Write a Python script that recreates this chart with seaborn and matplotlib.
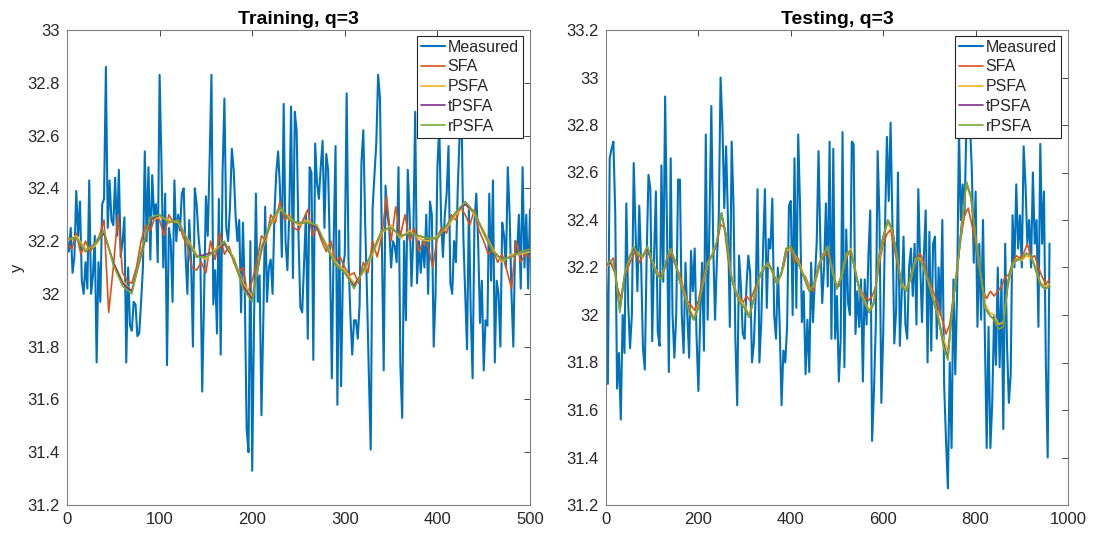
import numpy as np
import pandas as pd
import matplotlib
matplotlib.use("Agg")
import matplotlib.pyplot as plt
from matplotlib.ticker import FormatStrFormatter
import seaborn as sns

sns.set_style("white")
plt.rcParams['font.family'] = ['Liberation Sans', 'DejaVu Sans']

# ---------------- data ----------------
series_names = ["Measured", "SFA", "PSFA", "tPSFA", "rPSFA"]
series_colors = ["#0072BD", "#D95319", "#EDB120", "#7E2F8E", "#77AC30"]

# Training (sample spacing per series)
train_measured_step = 2
train_measured = [
    32.20, 32.16, 32.25, 32.08, 32.14, 32.39, 32.22, 32.35, 32.05, 32.00,
    32.12, 32.02, 32.43, 32.00, 32.07, 32.22, 31.74, 32.12, 31.97, 32.34,
    32.36, 32.86, 32.25, 32.43, 32.28, 32.26, 32.44, 32.22, 32.47, 32.14,
    32.20, 32.29, 31.74, 32.10, 31.88, 31.86, 31.97, 31.96, 31.84, 31.85,
    31.97, 32.10, 32.54, 32.20, 32.48, 32.13, 32.45, 32.30, 32.34, 32.12,
    32.83, 32.50, 32.10, 32.38, 31.73, 32.25,
    32.20, 31.97, 32.43, 32.20, 32.30, 32.24, 32.38, 32.40, 32.15, 32.00,
    32.28, 32.12, 31.80, 32.40, 32.34, 32.22, 32.14, 31.63, 31.98, 32.37,
    32.22, 32.50, 32.83, 31.96, 32.09, 31.85, 32.36, 31.77, 32.46, 32.74,
    32.25, 32.20, 32.33, 32.55, 32.47, 32.30, 32.20, 32.28, 31.93, 32.27,
    32.00, 31.49, 31.40, 32.20, 31.33, 31.90, 32.38, 31.97, 32.07, 31.54,
    31.90, 32.33, 31.97, 32.10, 32.13, 32.00, 32.30, 32.46,
    32.54, 32.40, 32.14, 32.72, 32.20, 32.09, 32.30, 32.71, 32.06, 32.69,
    32.62, 32.22, 31.95, 31.93, 32.12, 32.30, 31.83, 32.48, 32.46, 31.75,
    32.57, 32.42, 32.36, 32.48, 32.58, 32.25, 32.53, 32.47, 32.14, 31.68,
    32.20, 32.56, 31.58, 32.24, 31.65, 32.10, 32.15, 32.76, 32.13, 31.92,
    31.77, 31.90, 31.90, 31.83, 31.96, 32.50, 32.62, 32.27, 32.00, 31.69,
    31.41, 32.32, 32.45, 32.57, 32.83, 32.74, 32.20, 31.71, 32.41, 32.30,
    32.25, 32.10, 32.20,
    32.18, 32.12, 32.48, 31.73, 31.53, 32.20, 31.90, 32.47, 32.30, 32.03,
    32.22, 32.69, 32.04, 32.20, 32.08, 32.20, 32.10, 32.30, 32.00, 32.35,
    32.30, 31.80, 32.00, 32.48, 32.64, 32.28, 32.14, 32.30, 32.38, 32.56,
    32.04, 32.00, 32.20, 32.12, 32.40, 32.60, 32.70, 32.22, 32.00, 31.79,
    32.33, 31.93, 31.68, 32.27, 32.38, 32.20, 31.89, 32.05, 31.71, 31.90,
    31.88, 32.38, 32.05, 32.43, 31.74, 32.05, 32.00, 31.80, 32.27, 32.22,
    32.10, 32.48, 32.30, 32.00, 31.80, 32.20, 32.15, 32.30, 32.02, 32.48,
    32.10, 32.30, 32.02, 32.32,
]

train_sfa_step = 5
train_sfa = [
    32.19, 32.17, 32.23, 32.15, 32.20, 32.16, 32.19, 32.22, 32.28, 31.93,
    32.10, 32.30, 32.08, 32.05, 32.04, 32.10, 32.20, 32.26, 32.24, 32.29,
    32.28, 32.22, 32.30, 32.27, 32.28, 32.22, 32.18, 32.10, 32.09, 32.12,
    32.08, 32.20, 32.13, 32.23, 32.15, 32.18, 32.12, 32.08, 32.10, 32.00,
    32.05, 32.12, 32.22, 32.20, 32.30, 32.27, 32.35, 32.28, 32.30, 32.25,
    32.24, 32.28, 32.32, 32.22, 32.25, 32.20, 32.16, 32.20, 32.12, 32.14,
    32.10, 32.07, 32.08, 32.04, 32.12, 32.08, 32.20, 32.14, 32.22, 32.37,
    32.20, 32.33, 32.22, 32.30, 32.20, 32.25, 32.16, 32.20, 32.18, 32.10,
    32.22, 32.25, 32.23, 32.30, 32.28, 32.33, 32.30, 32.26, 32.32, 32.24,
    32.20, 32.15, 32.17, 32.12, 32.15, 32.09, 32.02, 32.20, 32.12, 32.15,
    32.14,
]

train_smooth_step = 10
train_psfa = [
    32.20, 32.22, 32.17, 32.18, 32.23, 32.12, 32.05, 32.01, 32.14, 32.28,
    32.29, 32.28, 32.27, 32.21, 32.15, 32.13, 32.17, 32.19, 32.14, 32.04,
    31.99, 32.16, 32.26, 32.32, 32.29, 32.26, 32.28, 32.25, 32.19, 32.12,
    32.09, 32.04, 32.08, 32.15, 32.23, 32.26, 32.21, 32.24, 32.21, 32.20,
    32.22, 32.25, 32.30, 32.34, 32.30, 32.24, 32.17, 32.12, 32.15, 32.15,
    32.16,
]
train_tpsfa = [
    32.21, 32.21, 32.16, 32.19, 32.23, 32.12, 32.04, 32.01, 32.15, 32.28,
    32.30, 32.27, 32.28, 32.20, 32.14, 32.15, 32.16, 32.19, 32.13, 32.03,
    31.98, 32.17, 32.27, 32.33, 32.28, 32.27, 32.27, 32.25, 32.18, 32.11,
    32.08, 32.03, 32.09, 32.16, 32.24, 32.25, 32.22, 32.23, 32.22, 32.21,
    32.21, 32.26, 32.31, 32.34, 32.31, 32.23, 32.16, 32.13, 32.14, 32.16,
    32.17,
]
train_rpsfa = [
    32.21, 32.21, 32.16, 32.19, 32.24, 32.11, 32.03, 32.00, 32.16, 32.29,
    32.30, 32.27, 32.28, 32.20, 32.14, 32.14, 32.16, 32.20, 32.13, 32.02,
    31.97, 32.18, 32.27, 32.33, 32.28, 32.27, 32.27, 32.26, 32.18, 32.11,
    32.08, 32.02, 32.09, 32.16, 32.24, 32.25, 32.22, 32.23, 32.22, 32.21,
    32.21, 32.26, 32.31, 32.35, 32.31, 32.23, 32.16, 32.13, 32.14, 32.16,
    32.17,
]

# Testing
test_measured_step = 4
test_measured = [
    32.22, 31.71, 32.66, 32.70, 32.73, 32.43, 31.69, 31.84, 31.56, 32.00,
    31.84, 32.47, 32.05, 31.86, 32.00, 32.64, 32.35, 32.10, 32.46, 32.22,
    31.86, 31.77, 32.25, 32.59, 32.53, 31.89, 32.25, 32.52, 31.93, 31.87,
    32.63, 32.14, 32.92, 32.37, 31.76, 32.66, 32.00, 31.82, 32.00, 32.57,
    32.57, 32.00, 31.84, 32.22, 32.00, 31.82, 32.27, 32.10, 32.28, 31.91,
    31.68, 32.00, 32.22, 31.85, 32.76, 31.98, 32.39, 32.88, 32.30, 31.98,
    32.23, 32.40, 33.00,
    32.80, 32.45, 32.71, 32.40, 31.95, 32.73, 32.46, 31.90, 31.62, 32.25,
    32.12, 31.92, 31.90, 32.12, 32.25, 32.18, 31.80, 31.88, 32.08, 32.53,
    31.80, 31.97, 32.28, 32.53, 32.03, 32.32, 32.28, 32.49, 32.00, 31.90,
    32.20, 31.95, 31.62, 31.85, 31.80, 31.95, 32.46, 32.48, 32.00, 32.66,
    32.03, 32.76, 32.46, 31.97, 32.10, 31.75, 31.98, 31.76, 32.22, 31.97,
    32.15, 32.30, 32.69, 32.30, 32.05, 32.20, 32.47, 32.12, 32.73,
    31.90, 32.70, 31.90, 32.08, 31.72, 31.90, 32.77, 31.78, 32.36, 32.05,
    32.00, 32.73, 32.72, 31.92, 32.10, 31.95, 32.15, 31.72, 32.15, 31.96,
    32.25, 32.44, 31.47, 31.68, 31.96, 32.69, 32.40, 31.63, 31.92, 32.38,
    32.75, 32.48, 32.81, 32.38, 31.88, 32.02, 32.60, 31.87, 32.08, 32.33,
    31.96, 31.90, 32.20, 32.28, 32.08, 32.30, 31.96, 32.53, 32.22, 31.97,
    32.25, 32.44, 31.80, 32.35, 31.85, 32.30, 32.33, 31.90, 32.20,
    32.00, 32.40, 31.70, 31.47, 31.27, 31.80, 31.44, 32.15, 31.75, 32.10,
    32.78, 32.40, 32.55, 32.42, 32.79, 32.75, 32.80, 32.60, 32.22, 32.52,
    31.95, 32.30, 31.98, 32.40, 31.92, 31.44, 31.95, 31.44, 31.63, 32.00,
    31.79, 32.20, 31.78, 32.15, 31.52, 32.30, 31.87, 31.63, 31.75, 32.42,
    32.20, 32.55, 32.28, 32.42, 32.20, 32.71, 32.55, 32.30, 32.40, 32.20,
    32.60, 32.30, 32.40, 31.95, 32.72, 32.30, 32.52, 31.80, 31.40, 32.30,
]

test_sfa_step = 8
test_sfa = [
    32.20, 32.22, 32.24, 32.12, 32.07, 32.16, 32.20, 32.24, 32.27, 32.22,
    32.25, 32.28, 32.24, 32.20, 32.18, 32.16, 32.20, 32.26, 32.24, 32.20,
    32.17, 32.11, 32.06, 32.04, 32.02, 32.06, 32.14, 32.20, 32.24, 32.26,
    32.30, 32.38, 32.37, 32.24, 32.15, 32.10, 32.08, 32.05, 32.08, 32.06,
    32.10, 32.14, 32.18, 32.20, 32.22, 32.18, 32.14, 32.16, 32.20, 32.27,
    32.28, 32.22, 32.24, 32.18, 32.16, 32.12, 32.10, 32.16, 32.22, 32.25,
    32.26, 32.20, 32.14, 32.12, 32.18, 32.24, 32.27, 32.22, 32.14, 32.10,
    32.08, 32.06, 32.08, 32.12, 32.22, 32.30, 32.34, 32.36, 32.28, 32.20,
    32.13, 32.10, 32.14, 32.20, 32.24, 32.26, 32.22, 32.16, 32.12, 32.08,
    32.03, 31.98, 31.92, 31.96, 32.08, 32.20, 32.32, 32.42, 32.45, 32.38,
    32.30, 32.20, 32.10, 32.07, 32.10, 32.08, 32.10, 32.12, 32.16, 32.17,
    32.22, 32.25, 32.24, 32.26, 32.30, 32.24, 32.25, 32.20, 32.16, 32.13,
    32.15,
]

test_smooth_step = 10
test_psfa = [
    32.20, 32.22, 32.17, 32.03, 32.16, 32.23, 32.28, 32.26, 32.24, 32.28,
    32.23, 32.18, 32.16, 32.22, 32.27, 32.23, 32.15, 32.09, 32.03, 31.99,
    32.04, 32.13, 32.21, 32.26, 32.31, 32.42, 32.34, 32.18, 32.11, 32.06,
    32.04, 32.00, 32.06, 32.14, 32.20, 32.21, 32.18, 32.14, 32.17, 32.27,
    32.28, 32.25, 32.21, 32.16, 32.11, 32.12, 32.20, 32.26, 32.28, 32.19,
    32.12, 32.16, 32.25, 32.28, 32.19, 32.10, 32.06, 32.02, 32.06, 32.22,
    32.32, 32.39, 32.35, 32.25, 32.13, 32.11, 32.15, 32.23, 32.24, 32.18,
    32.13, 32.06, 31.99, 31.90, 31.85, 32.03, 32.19, 32.37, 32.55, 32.49,
    32.33, 32.19, 32.05, 32.01, 32.00, 31.96, 31.97, 32.12, 32.21, 32.24,
    32.23, 32.25, 32.24, 32.20, 32.14, 32.12, 32.13,
]
test_tpsfa = [
    32.21, 32.22, 32.18, 32.02, 32.16, 32.24, 32.28, 32.25, 32.25, 32.28,
    32.22, 32.17, 32.16, 32.22, 32.28, 32.22, 32.14, 32.08, 32.02, 31.98,
    32.03, 32.14, 32.22, 32.25, 32.30, 32.43, 32.33, 32.17, 32.10, 32.05,
    32.03, 31.99, 32.07, 32.15, 32.19, 32.22, 32.19, 32.13, 32.18, 32.28,
    32.29, 32.24, 32.20, 32.15, 32.10, 32.13, 32.21, 32.25, 32.29, 32.18,
    32.11, 32.17, 32.26, 32.27, 32.18, 32.09, 32.05, 32.01, 32.05, 32.24,
    32.33, 32.40, 32.36, 32.24, 32.12, 32.10, 32.16, 32.24, 32.23, 32.19,
    32.12, 32.05, 31.98, 31.88, 31.82, 32.04, 32.18, 32.39, 32.56, 32.50,
    32.32, 32.18, 32.03, 32.00, 31.98, 31.94, 31.95, 32.14, 32.22, 32.23,
    32.24, 32.26, 32.25, 32.19, 32.13, 32.11, 32.12,
]
test_rpsfa = [
    32.21, 32.23, 32.18, 32.01, 32.17, 32.24, 32.29, 32.25, 32.25, 32.29,
    32.22, 32.17, 32.15, 32.23, 32.28, 32.22, 32.14, 32.08, 32.01, 31.98,
    32.03, 32.14, 32.22, 32.25, 32.31, 32.43, 32.33, 32.17, 32.10, 32.05,
    32.03, 31.99, 32.07, 32.15, 32.19, 32.22, 32.19, 32.13, 32.18, 32.28,
    32.29, 32.24, 32.20, 32.15, 32.10, 32.13, 32.21, 32.25, 32.29, 32.18,
    32.11, 32.17, 32.26, 32.27, 32.18, 32.09, 32.05, 32.01, 32.05, 32.24,
    32.33, 32.40, 32.36, 32.24, 32.12, 32.10, 32.16, 32.24, 32.23, 32.19,
    32.12, 32.05, 31.98, 31.87, 31.81, 32.04, 32.18, 32.38, 32.56, 32.50,
    32.32, 32.18, 32.03, 32.00, 31.98, 31.94, 31.95, 32.14, 32.22, 32.23,
    32.24, 32.26, 32.25, 32.19, 32.13, 32.11, 32.12,
]

titles = ["Training, q=3", "Testing, q=3"]
train_xticks = [0, 100, 200, 300, 400, 500]
test_xticks = [0, 200, 400, 600, 800, 1000]
train_yticks = [31.2, 31.4, 31.6, 31.8, 32.0, 32.2, 32.4, 32.6, 32.8, 33.0]
test_yticks = [31.2, 31.4, 31.6, 31.8, 32.0, 32.2, 32.4, 32.6, 32.8, 33.0, 33.2]


def long_frame(items):
    frames = []
    for name, vals, step in items:
        frames.append(pd.DataFrame({"x": np.arange(len(vals)) * step,
                                    "y": vals, "series": name}))
    return pd.concat(frames, ignore_index=True)


train_df = long_frame([
    ("Measured", train_measured, train_measured_step),
    ("SFA", train_sfa, train_sfa_step),
    ("PSFA", train_psfa, train_smooth_step),
    ("tPSFA", train_tpsfa, train_smooth_step),
    ("rPSFA", train_rpsfa, train_smooth_step),
])
test_df = long_frame([
    ("Measured", test_measured, test_measured_step),
    ("SFA", test_sfa, test_sfa_step),
    ("PSFA", test_psfa, test_smooth_step),
    ("tPSFA", test_tpsfa, test_smooth_step),
    ("rPSFA", test_rpsfa, test_smooth_step),
])

fig = plt.figure(figsize=(10.96, 5.36), dpi=100)
ax1 = fig.add_axes([67 / 1096, 1 - 505 / 536, 463 / 1096, 475 / 536])
ax2 = fig.add_axes([606 / 1096, 1 - 505 / 536, 462 / 1096, 475 / 536])

axis_color = "#262626"
for ax, df, title, xt, yt, xlim, ylim in [
    (ax1, train_df, titles[0], train_xticks, train_yticks, (0, 500), (31.2, 33.0)),
    (ax2, test_df, titles[1], test_xticks, test_yticks, (0, 1000), (31.2, 33.2)),
]:
    for name, col in zip(series_names, series_colors):
        sub = df[df["series"] == name]
        sns.lineplot(data=sub, x="x", y="y", ax=ax, color=col,
                     linewidth=1.5 if name == "Measured" else 1.2,
                     label=name, estimator=None, sort=False)
    ax.set_xlim(*xlim)
    ax.set_ylim(*ylim)
    ax.set_xticks(xt)
    ax.set_yticks(yt)
    ax.yaxis.set_major_formatter(FormatStrFormatter("%g"))
    ax.set_xlabel("")
    ax.set_ylabel("")
    ax.set_title(title, fontsize=14, fontweight="bold", color="black", pad=4)
    ax.tick_params(direction="in", length=4, width=0.6, colors=axis_color,
                   labelsize=12, top=True, right=True, labelcolor=axis_color,
                   pad=5)
    for sp in ax.spines.values():
        sp.set_color("#808080")
        sp.set_linewidth(0.8)
        sp.set_visible(True)
    leg = ax.legend(loc="upper right", bbox_to_anchor=(0.984, 0.988),
                    fontsize=11.5, frameon=True, fancybox=False,
                    framealpha=1, edgecolor="#262626", handlelength=1.5,
                    handletextpad=0.15, labelspacing=0.3, borderpad=0.25,
                    borderaxespad=0.0)
    leg.get_frame().set_linewidth(0.8)

ax1.set_ylabel("y", fontsize=12, color=axis_color, labelpad=2)

fig.savefig("out.png", dpi=100)
